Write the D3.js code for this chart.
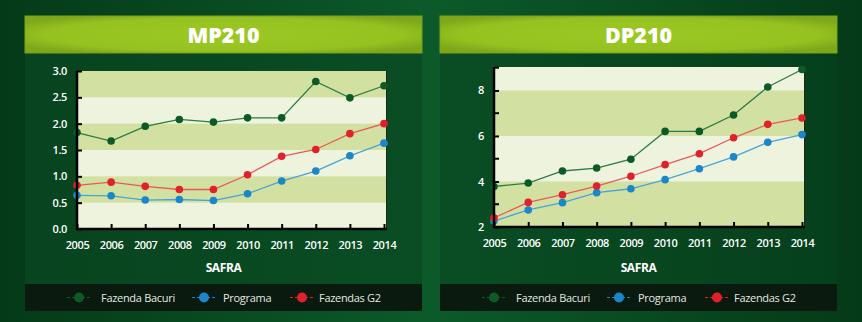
<!DOCTYPE html>
<html><head><meta charset="utf-8">
<script src="https://cdn.jsdelivr.net/npm/d3@7"></script>
<style>
html,body{margin:0;padding:0;background:#0a4d24;}
svg{display:block;}
</style></head>
<body>
<svg id="c" width="862" height="322"></svg>
<script>
const years = [2005,2006,2007,2008,2009,2010,2011,2012,2013,2014];
const seriesNames = ["Fazenda Bacuri","Programa","Fazendas G2"];
const seriesColors = ["#0d5a26","#1b86c9","#e0202a"];
const lineColors = ["#2f7a45","#4aa3d8","#e85a5a"];

const mpBacuri   = [1.83,1.67,1.95,2.08,2.03,2.11,2.11,2.80,2.49,2.72];
const mpPrograma = [0.64,0.63,0.55,0.56,0.54,0.67,0.91,1.10,1.39,1.63];
const mpG2       = [0.83,0.89,0.81,0.75,0.75,1.03,1.38,1.51,1.81,2.00];
const mpTicks    = [0,0.5,1,1.5,2,2.5,3];
const mpTickLabels = ["0.0","0.5","1.0","1.5","2.0","2.5","3.0"];
const mpBands    = [[0.5,1],[1.5,2],[2.5,3]];

const dpBacuri   = [3.78,3.93,4.46,4.59,4.98,6.20,6.20,6.92,8.15,8.92];
const dpPrograma = [2.26,2.75,3.07,3.51,3.68,4.08,4.56,5.08,5.72,6.06];
const dpG2       = [2.40,3.08,3.42,3.80,4.23,4.74,5.22,5.92,6.51,6.79];
const dpTicks    = [2,4,6,8];
const dpMinor    = [3,5,7,9];
const dpTickLabels = ["2","4","6","8"];
const dpBands    = [[2,4],[6,8]];

const svg = d3.select("#c");
const defs = svg.append("defs");
const bg = defs.append("linearGradient").attr("id","bg").attr("x1",0).attr("x2",1).attr("y1",0).attr("y2",0);
bg.append("stop").attr("offset","0%").attr("stop-color","#053a18");
bg.append("stop").attr("offset","50%").attr("stop-color","#0c5a2a");
bg.append("stop").attr("offset","100%").attr("stop-color","#053a18");
const tg = defs.append("radialGradient").attr("id","tg").attr("cx","50%").attr("cy","50%").attr("r","60%");
tg.append("stop").attr("offset","0%").attr("stop-color","#9cc824");
tg.append("stop").attr("offset","75%").attr("stop-color","#96c220");
tg.append("stop").attr("offset","100%").attr("stop-color","#7ea71a");
const pgL = defs.append("linearGradient").attr("id","pgL").attr("x1",0).attr("x2",1).attr("y1",0).attr("y2",0);
pgL.append("stop").attr("offset","0%").attr("stop-color","#07441f");
pgL.append("stop").attr("offset","100%").attr("stop-color","#0a4d24");
const pgR = defs.append("linearGradient").attr("id","pgR").attr("x1",0).attr("x2",1).attr("y1",0).attr("y2",0);
pgR.append("stop").attr("offset","0%").attr("stop-color","#0a4d24");
pgR.append("stop").attr("offset","100%").attr("stop-color","#05401c");

svg.append("rect").attr("width",862).attr("height",322).attr("fill","url(#bg)");

function panel(cfg){
  const g = svg.append("g");
  const px = cfg.px, pw = 397;
  g.append("rect").attr("x",px).attr("y",53).attr("width",pw).attr("height",231).attr("fill",cfg.pfill);
  g.append("rect").attr("x",px).attr("y",16).attr("width",pw).attr("height",37).attr("fill","url(#tg)")
    .attr("stroke","#7aa31a").attr("stroke-width",1);
  g.append("text").attr("x",px+pw/2).attr("y",43).attr("text-anchor","middle")
    .attr("font-family","Open Sans").attr("font-weight",800).attr("font-size",21.5)
    .attr("fill","#fff").text(cfg.title);

  const x = d3.scalePoint().domain(years).range([cfg.x0,cfg.x1]);
  const y = d3.scaleLinear().domain(cfg.ydom).range([cfg.yb,cfg.yt]);
  const L = cfg.x0, R = cfg.x1+2;
  g.append("rect").attr("x",L).attr("y",y(cfg.ydom[1])).attr("width",R-L).attr("height",y(cfg.ydom[0])-y(cfg.ydom[1])).attr("fill","#eef3dd");
  g.selectAll(".band").data(cfg.bands).join("rect")
    .attr("x",L).attr("width",R-L).attr("y",d=>y(d[1])).attr("height",d=>y(d[0])-y(d[1])).attr("fill","#d2e1a1");
  g.append("line").attr("x1",R+0.5).attr("x2",R+0.5).attr("y1",y(cfg.ydom[1])).attr("y2",cfg.yb).attr("stroke","#1a2a10").attr("stroke-width",1);

  const line = d3.line().x((d,i)=>x(years[i])).y(d=>y(d));
  cfg.series.forEach((s,k)=>{
    g.append("path").datum(s).attr("d",line).attr("fill","none").attr("stroke",lineColors[k]).attr("stroke-width",1.3);
  });
  cfg.series.forEach((s,k)=>{
    g.selectAll(null).data(s).join("circle").attr("cx",(d,i)=>x(years[i])).attr("cy",d=>y(d)).attr("r",3.8).attr("fill",seriesColors[k]);
  });

  const ya = d3.axisLeft(y).tickValues(cfg.ticks).tickFormat((d,i)=>cfg.tickLabels[i]).tickSizeInner(-5).tickSizeOuter(0).tickPadding(10);
  const yg = g.append("g").attr("transform",`translate(${L},0)`).call(ya);
  if(cfg.minor){
    yg.selectAll(".minor").data(cfg.minor).join("line").attr("x1",0).attr("x2",5).attr("y1",d=>y(d)).attr("y2",d=>y(d)).attr("stroke","#000").attr("stroke-width",2);
  }
  const xa = d3.axisBottom(x).tickSizeInner(-5).tickSizeOuter(0).tickPadding(12);
  const xg = g.append("g").attr("transform",`translate(0,${cfg.yb})`).call(xa);
  [yg,xg].forEach(a=>{
    a.selectAll("path.domain").attr("stroke","#000").attr("stroke-width",2.5);
    a.selectAll(".tick line").attr("stroke","#000").attr("stroke-width",2);
    a.selectAll("text").attr("fill","#fff").attr("font-family","Open Sans").attr("font-weight",600).attr("font-size",11).attr("letter-spacing",-0.4);
  });
  xg.select("path.domain").attr("d",`M${L-1},0H${R+1}`);
  yg.select("path.domain").attr("d",`M0,${y(cfg.ydom[1])}V${cfg.yb+1}`);

  g.append("text").attr("x",px+pw/2).attr("y",272).attr("text-anchor","middle")
    .attr("font-family","Open Sans").attr("font-weight",700).attr("font-size",12).attr("fill","#fff").attr("letter-spacing",-0.4).text("SAFRA");

  g.append("rect").attr("x",px).attr("y",284).attr("width",pw).attr("height",27).attr("fill","#0a1a0e");
  const offs = [[54,76],[179,198],[277,294]];
  seriesNames.forEach((n,k)=>{
    const cx = px+offs[k][0];
    g.append("line").attr("x1",cx-12).attr("x2",cx+12).attr("y1",297.5).attr("y2",297.5).attr("stroke",seriesColors[k]).attr("stroke-width",1).attr("stroke-dasharray","3,2");
    g.append("circle").attr("cx",cx).attr("cy",297.5).attr("r",5).attr("fill",seriesColors[k]);
    g.append("text").attr("x",px+offs[k][1]).attr("y",301.5).attr("font-family","Open Sans").attr("font-size",11).attr("fill","#e4e8e4").attr("letter-spacing",-0.3).text(n);
  });
}

panel({px:25,pfill:"url(#pgL)",title:"MP210",x0:77,x1:384,yb:229,yt:71,ydom:[0,3],ticks:mpTicks,tickLabels:mpTickLabels,bands:mpBands,series:[mpBacuri,mpPrograma,mpG2]});
panel({px:440,pfill:"url(#pgR)",title:"DP210",x0:494,x1:802,yb:227,yt:67,ydom:[2,9.03],ticks:dpTicks,tickLabels:dpTickLabels,minor:dpMinor,bands:dpBands,series:[dpBacuri,dpPrograma,dpG2]});
</script>
</body></html>
